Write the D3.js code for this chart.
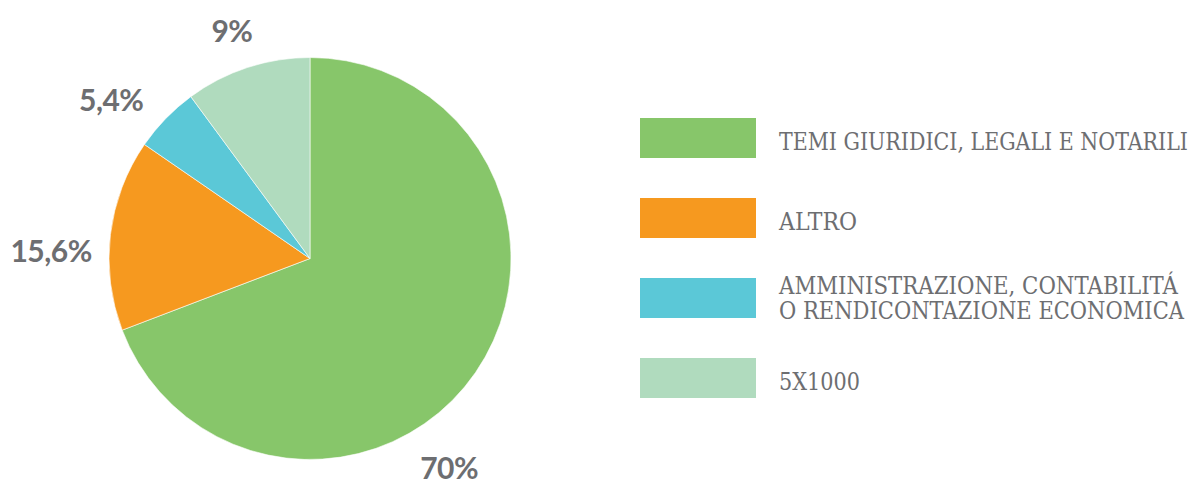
<!DOCTYPE html>
<html>
<head>
<meta charset="utf-8">
<script src="https://cdn.jsdelivr.net/npm/d3@7"></script>
<style>
  html, body { margin: 0; padding: 0; background: #fff; }
</style>
</head>
<body>
<div id="chart"></div>
<script>
// data (slice sizes as drawn, labels as printed)
var categories = ["TEMI GIURIDICI, LEGALI E NOTARILI", "ALTRO", "AMMINISTRAZIONE, CONTABILITÁ\nO RENDICONTAZIONE ECONOMICA", "5X1000"]
var values = [69.2, 15.4, 5.3, 10.1]
var valueLabels = ["70%", "15,6%", "5,4%", "9%"]
var colors = ["#87c66a", "#f6991f", "#5bc8d7", "#b0dbbe"]

// where each percentage label sits (polar, around pie centre)
var labelAngle = [146.5, 271.7, 308.5, 341]
var labelRadius = [252, 259, 254, 240]

var width = 1190, height = 482
var cx = 310, cy = 258.5, radius = 201

var svg = d3.select("#chart").append("svg")
	.attr("width", width)
	.attr("height", height)

var data = values.map((v, i) => ({ name: categories[i], value: v, label: valueLabels[i], color: colors[i] }))

var pie = d3.pie()
	.sort(null)
	.value(d => d.value)

var arc = d3.arc()
	.innerRadius(0)
	.outerRadius(radius)

var pieGroup = svg.append("g")
	.attr("transform", "translate(" + cx + "," + cy + ")")

pieGroup.selectAll("path")
	.data(pie(data))
	.enter()
	.append("path")
	.attr("d", arc)
	.attr("fill", d => d.data.color)
	.attr("stroke", "#fff")
	.attr("stroke-width", 0.6)

pieGroup.selectAll(".pct")
	.data(data)
	.enter()
	.append("text")
	.attr("class", "pct")
	.attr("x", (d, i) => labelRadius[i] * Math.sin(labelAngle[i] * Math.PI / 180))
	.attr("y", (d, i) => -labelRadius[i] * Math.cos(labelAngle[i] * Math.PI / 180))
	.attr("dy", "0.36em")
	.attr("text-anchor", "middle")
	.style("font-family", "Lato, 'Noto Sans', sans-serif")
	.style("font-weight", 700)
	.style("font-size", "30px")
	.style("letter-spacing", "-0.5px")
	.style("fill", "#6d6e71")
	.text(d => d.label)

// legend
var legendY = d3.scaleBand()
	.domain(categories)
	.range([98, 418])

var legend = svg.append("g")

var item = legend.selectAll(".item")
	.data(data)
	.enter()
	.append("g")
	.attr("class", "item")
	.attr("transform", d => "translate(640," + (legendY(d.name) + 20) + ")")

item.append("rect")
	.attr("x", 0)
	.attr("y", 0)
	.attr("width", 116)
	.attr("height", 40)
	.attr("fill", d => d.color)

var textLengths = [[409], [78], [399, 405], [81]]

item.each(function(d, i) {
	var lines = d.name.split("\n")
	var g = d3.select(this)
	var first = lines.length === 1 ? 32 : 15.5
	lines.forEach(function(line, j) {
		g.append("text")
			.attr("x", 139)
			.attr("y", first + j * 25)
			.attr("textLength", textLengths[i][j])
			.attr("lengthAdjust", "spacingAndGlyphs")
			.style("font-family", "'DejaVu Serif', serif")
			.style("font-size", "23.5px")
			.style("fill", "#6d6e71")
			.text(line)
	})
})
</script>
</body>
</html>
